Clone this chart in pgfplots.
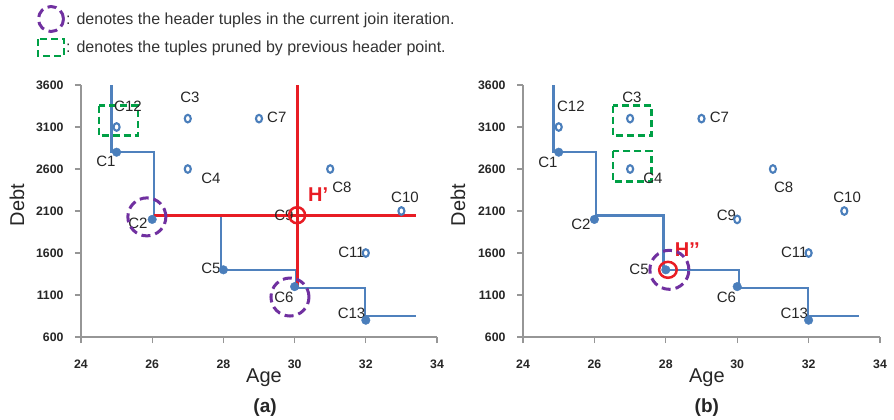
\documentclass[border=0pt]{standalone}
\usepackage{fontspec}
\setmainfont{Liberation Sans}
\usepackage{pgfplots}
\pgfplotsset{compat=1.18}
\definecolor{ptblue}{RGB}{74,126,187}
\definecolor{lnblue}{RGB}{79,129,189}
\definecolor{hred}{RGB}{232,28,36}
\definecolor{hpurple}{RGB}{112,48,160}
\definecolor{hgreen}{RGB}{0,160,70}
\definecolor{axgray}{RGB}{150,150,150}
\newcommand\fs[1]{\fontsize{#1bp}{#1bp}\selectfont}
\tikzset{
  dl/.style={font=\fs{15}, text=black!85, inner sep=0pt},
  hollow/.style={only marks, mark=o, mark size=3.8bp, mark options={ptblue, line width=2.1bp, xscale=0.8}},
  filled/.style={only marks, mark=*, mark size=4.3bp, mark options={ptblue, fill=ptblue}},
  stepl/.style={lnblue, line width=2.5bp, mark=none},
  redl/.style={hred, line width=3bp, mark=none},
  pdash/.style={hpurple, line width=3bp, dash pattern=on 9bp off 5bp},
  gdash/.style={hgreen, line width=2.6bp, dash pattern=on 7bp off 4bp},
}
\pgfplotsset{
  panel/.style={
    scale only axis, height=252bp,
    xmin=24, xmax=34, ymin=600, ymax=3600,
    xtick={24,26,...,34}, ytick={600,1100,...,3600},
    axis lines=left, axis line style={-, axgray, line width=1.5bp},
    tick style={axgray, line width=1.2bp}, tick align=outside, major tick length=6bp,
    /pgf/number format/assume math mode=true,
    /pgf/number format/1000 sep={},
    ticklabel style={font=\bfseries\fs{12.3}, text=black!85},
    xticklabel style={yshift=-13bp},
    yticklabel style={xshift=-8bp},
    clip=false,
  },
}
\begin{document}
\begin{tikzpicture}
\useasboundingbox (0,0) rectangle (894bp,-420bp);
% legend
\draw[pdash] (51bp,-19bp) circle[radius=12.5bp];
\node[anchor=west, font=\fs{16}, text=black!80, inner sep=0pt] at (66bp,-20bp) {: denotes the header tuples in the current join iteration.};
\draw[gdash] (38bp,-39bp) rectangle (64bp,-56bp);
\node[anchor=west, font=\fs{16}, text=black!80, inner sep=0pt] at (66bp,-48bp) {: denotes the tuples pruned by previous header point.};

% ---------- panel (a)
\begin{axis}[panel, width=356bp, at={(81bp,-337bp)}, anchor=south west]
\addplot[stepl] coordinates {(24.85,3600) (24.85,2800) (26.05,2800) (26.05,2010)};
\addplot[stepl] coordinates {(27.93,2050) (27.93,1400) (30.05,1400) (30.05,1183) (31.98,1183) (31.98,850) (33.4,850)};
\addplot[redl] coordinates {(26.05,2050) (33.4,2050)};
\addplot[redl] coordinates {(30.08,3600) (30.08,1195)};
\addplot[hollow] coordinates {(25,3100) (27,3200) (29,3200) (27,2600) (31,2600) (33,2100) (32,1600)};
\addplot[filled] coordinates {(25,2800) (26,2000) (28,1400) (30,1200) (32,800)};
\addplot[only marks, mark=o, mark size=8bp, mark options={hred, line width=2.5bp}] coordinates {(30.07,2050)};
\addplot[only marks, mark=o, mark size=19bp, mark options={pdash}] coordinates {(25.85,2030) (29.87,1076)};
\draw[gdash] (axis cs:24.5,3354) rectangle (axis cs:25.6,2996);
\node[dl] at (axis cs:25.32,3350) {C12};
\node[dl] at (axis cs:24.70,2695) {C1};
\node[dl] at (axis cs:27.06,3457) {C3};
\node[dl] at (axis cs:29.5,3220) {C7};
\node[dl] at (axis cs:27.65,2490) {C4};
\node[dl] at (axis cs:31.33,2386) {C8};
\node[dl] at (axis cs:33.1,2267) {C10};
\node[dl] at (axis cs:29.7,2050) {C9};
\node[dl] at (axis cs:25.6,1957) {C2};
\node[dl] at (axis cs:31.6,1610) {C11};
\node[dl] at (axis cs:27.65,1420) {C5};
\node[dl] at (axis cs:29.7,1076) {C6};
\node[dl] at (axis cs:31.6,886) {C13};
\node[font=\bfseries\fs{20}, text=hred, inner sep=0pt] at (axis cs:30.66,2290) {H’};
\node[font=\fs{20}, text=black!85, rotate=90] at (axis description cs:-0.18,0.524) {Debt};
\node[font=\fs{20}, text=black!85] at (axis description cs:0.514,-0.163) {Age};
\node[font=\bfseries\fs{19}, text=black!85] at (axis description cs:0.517,-0.282) {(a)};
\end{axis}

% ---------- panel (b)
\begin{axis}[panel, width=357bp, at={(523bp,-337bp)}, anchor=south west]
\addplot[stepl] coordinates {(24.85,3600) (24.85,2800) (26.05,2800) (26.05,2045) (27.93,2045) (27.93,1400) (30.05,1400) (30.05,1183) (31.98,1183) (31.98,850) (33.4,850)};
\addplot[hollow] coordinates {(25,3100) (27,3200) (29,3200) (27,2600) (31,2600) (33,2100) (32,1600) (30,2000)};
\addplot[filled] coordinates {(25,2800) (26,2000) (28,1400) (30,1200) (32,800)};
\addplot[only marks, mark=o, mark size=8bp, mark options={hred, line width=2.5bp, xscale=1.1}] coordinates {(28.06,1400)};
\addplot[only marks, mark=o, mark size=19.5bp, mark options={pdash}] coordinates {(28.1,1400)};
\draw[gdash] (axis cs:26.52,3354) rectangle (axis cs:27.6,2996);
\draw[gdash] (axis cs:26.52,2814) rectangle (axis cs:27.6,2449);
\node[dl] at (axis cs:25.34,3350) {C12};
\node[dl] at (axis cs:24.70,2680) {C1};
\node[dl] at (axis cs:27.05,3457) {C3};
\node[dl] at (axis cs:29.5,3220) {C7};
\node[dl] at (axis cs:27.64,2490) {C4};
\node[dl] at (axis cs:31.3,2386) {C8};
\node[dl] at (axis cs:33.08,2267) {C10};
\node[dl] at (axis cs:29.7,2050) {C9};
\node[dl] at (axis cs:25.62,1945) {C2};
\node[dl] at (axis cs:31.6,1610) {C11};
\node[dl] at (axis cs:27.25,1410) {C5};
\node[dl] at (axis cs:29.7,1076) {C6};
\node[dl] at (axis cs:31.6,886) {C13};
\node[font=\bfseries\fs{20}, text=hred, inner sep=0pt] at (axis cs:28.6,1636) {H’’};
\node[font=\fs{20}, text=black!85, rotate=90] at (axis description cs:-0.182,0.524) {Debt};
\node[font=\fs{20}, text=black!85] at (axis description cs:0.515,-0.163) {Age};
\node[font=\bfseries\fs{19}, text=black!85] at (axis description cs:0.515,-0.282) {(b)};
\end{axis}
\end{tikzpicture}
\end{document}
